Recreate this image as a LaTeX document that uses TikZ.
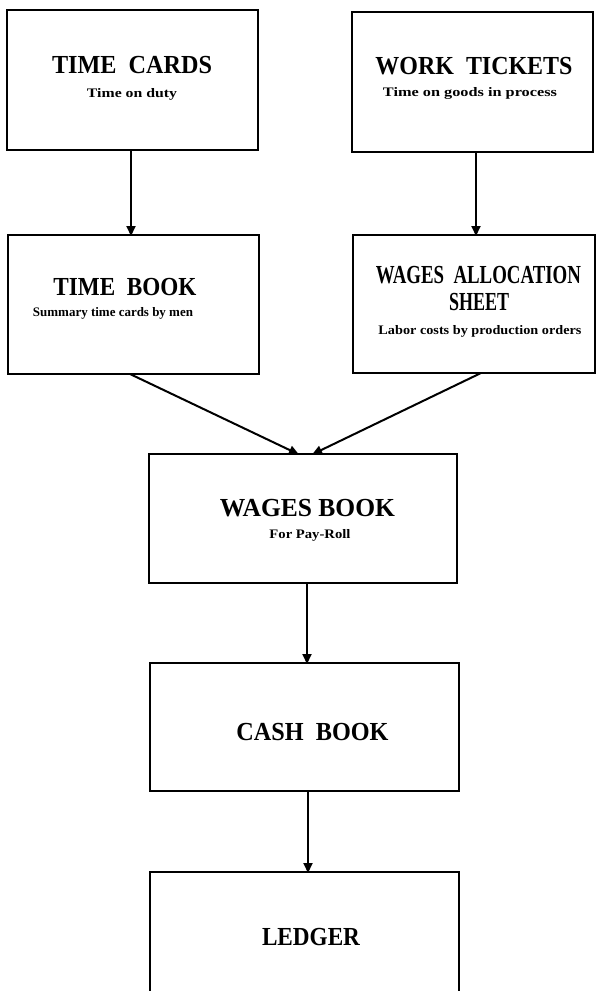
\documentclass[tikz,border=0pt]{standalone}
\usepackage{fontspec}
\setmainfont{Liberation Serif}
\usepackage{graphicx}
\usetikzlibrary{arrows.meta}
\newcommand{\fitw}[2]{\resizebox{#1}{\height}{#2}}
\tikzset{
  box/.style={draw=black, line width=2pt, rectangle, inner sep=0pt, outer sep=0pt},
  ttl/.style={inner sep=0pt, anchor=base, font=\bfseries\fontsize{26}{28}\selectfont},
  sub/.style={inner sep=0pt, anchor=base, font=\bfseries\fontsize{13}{15}\selectfont},
  arr/.style={line width=2pt, -{Triangle[length=10pt,width=9pt]}, shorten >=-1pt}
}
\begin{document}
\begin{tikzpicture}[x=1pt, y=-1pt]
\useasboundingbox (0,0) rectangle (596,991);
\clip (0,0) rectangle (596,991);
\fill[white] (0,0) rectangle (596,991);

% boxes
\node[box, minimum width=251pt, minimum height=140pt] (tc)  at (132.5,80) {};
\node[box, minimum width=241pt, minimum height=140pt] (wt)  at (472.5,82) {};
\node[box, minimum width=251pt, minimum height=139pt] (tb)  at (133.5,304.5) {};
\node[box, minimum width=242pt, minimum height=138pt] (was) at (474,304) {};
\node[box, minimum width=308pt, minimum height=129pt] (wb)  at (303,518.5) {};
\node[box, minimum width=309pt, minimum height=128pt] (cb)  at (304.5,727) {};
\node[box, minimum width=309pt, minimum height=140pt] (lg)  at (304.5,942) {};

% texts
\node[ttl] (tct) at (132,73) {\fitw{160pt}{TIME\ \ CARDS}};
\node[sub] (tcs) at (132,97) {\fitw{90pt}{Time on duty}};
\node[ttl] (wtt) at (474,74) {\fitw{197pt}{WORK\ \ TICKETS}};
\node[sub] (wts) at (470,96) {\fitw{174pt}{Time on goods in process}};
\node[ttl] (tbt) at (125,295) {\fitw{143pt}{TIME\ \ BOOK}};
\node[sub] (tbs) at (113,316) {\fitw{160pt}{Summary time cards by men}};
\node[ttl] (wat1) at (478.5,283) {\fitw{205pt}{WAGES\ \ ALLOCATION}};
\node[ttl] (wat2) at (479,310) {\fitw{60pt}{SHEET}};
\node[sub] (was1) at (480,334) {\fitw{203pt}{Labor costs by production orders}};
\node[ttl] (wbt) at (307.5,516) {\fitw{175pt}{WAGES BOOK}};
\node[sub] (wbs) at (310,538) {\fitw{81pt}{For Pay-Roll}};
\node[ttl] (cbt) at (312.5,740) {\fitw{152pt}{CASH\ \ BOOK}};
\node[ttl] (lgt) at (311,945) {\fitw{98pt}{LEDGER}};

% connectors
\draw[arr] ([xshift=-1.5pt]tc.south) -- ([xshift=-1.5pt]tc.south |- tb.north);
\draw[arr] ([xshift=3.5pt]wt.south) -- ([xshift=3.5pt]wt.south |- was.north);
\draw[arr] ([xshift=-3.5pt]tb.south) -- ([xshift=-5pt]wb.north);
\draw[arr] ([xshift=7pt]was.south) -- ([xshift=10pt]wb.north);
\draw[arr] ([xshift=4pt]wb.south) -- ([xshift=4pt]wb.south |- cb.north);
\draw[arr] ([xshift=3.5pt]cb.south) -- ([xshift=3.5pt]cb.south |- lg.north);
\end{tikzpicture}
\end{document}
